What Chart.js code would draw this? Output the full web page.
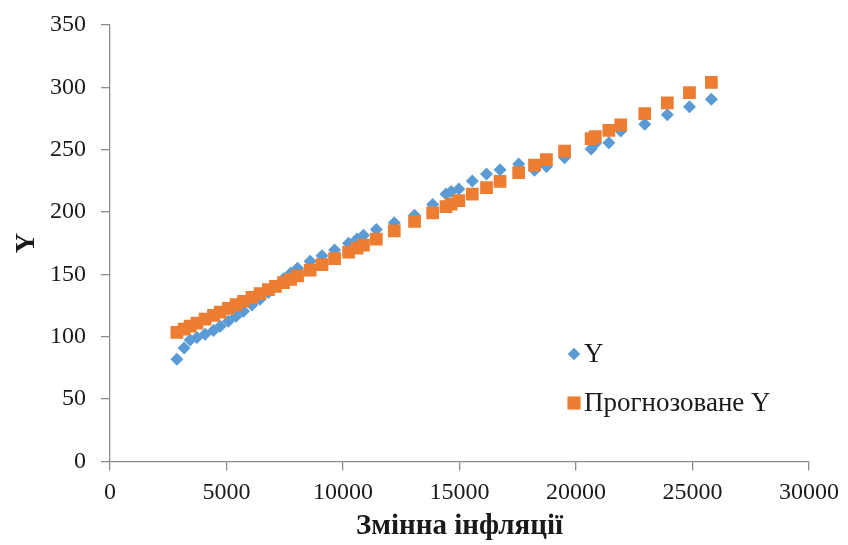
<!DOCTYPE html>
<html>
<head>
<meta charset="utf-8">
<script src="https://cdn.jsdelivr.net/npm/chart.js@4.4.1/dist/chart.umd.min.js"></script>
<style>
  html, body { margin: 0; padding: 0; background: #ffffff; }
  #wrap { width: 848px; height: 545px; position: relative; }
</style>
</head>
<body>
<div id="wrap"><canvas id="c" width="848" height="545"></canvas></div>
<script>
// Inflation variable (x values)
const inflation = [2870, 3180, 3440, 3730, 4080, 4440, 4730, 5080, 5410, 5730, 6090, 6440, 6800, 7100, 7450, 7750, 8050, 8590, 9100, 9640, 10240, 10600, 10880, 11430, 12200, 13070, 13850, 14420, 14640, 14970, 15550, 16160, 16740, 17540, 18220, 18730, 19510, 20650, 20830, 21410, 21920, 22950, 23920, 24870, 25810];
// Observed Y
const yActual = [82, 91, 97.5, 99.5, 102, 105, 108.5, 112.5, 116.5, 120.5, 125.5, 130, 135.5, 140.5, 146.5, 151, 155, 160.5, 165, 169.5, 175, 178.5, 181.5, 186, 191.5, 197.5, 206, 214.5, 216.5, 218.5, 225, 230.5, 234, 238.5, 233.5, 236.5, 243.5, 250.5, 255, 255.5, 265, 270.5, 278, 284.5, 290.5];
// Predicted Y
const yPredicted = [103.5, 106.2, 108.5, 111.0, 114.1, 117.2, 119.7, 122.8, 125.7, 128.5, 131.6, 134.7, 137.8, 140.5, 143.5, 146.1, 148.8, 153.5, 157.9, 162.7, 167.9, 171.0, 173.5, 178.3, 185.0, 192.6, 199.4, 204.4, 206.4, 209.2, 214.3, 219.6, 224.7, 231.7, 237.6, 242.1, 248.9, 258.9, 260.5, 265.5, 270.0, 279.0, 287.5, 295.8, 304.0];
const seriesNames = ['Y', 'Прогнозоване Y'];
const xTitle = 'Змінна інфляції';
const yTitle = 'Y';

const SERIF = '"Liberation Serif", "Times New Roman", serif';
const BLUE = '#5B9BD5';
const ORANGE = '#ED7D31';
const AXIS = '#8c8c8c';
const TEXT = '#1a1a1a';

const legendPlugin = {
  id: 'insideLegend',
  afterDraw(chart) {
    const ctx = chart.ctx;
    const rows = [354, 403];
    ctx.save();
    ctx.font = '27px ' + SERIF;
    ctx.textBaseline = 'middle';
    chart.data.datasets.forEach((ds, k) => {
      const cy = rows[k];
      const mx = 574;
      ctx.fillStyle = ds.backgroundColor;
      Chart.helpers.drawPoint(ctx, {
        pointStyle: ds.pointStyle,
        radius: ds.legendRadius,
        borderWidth: 0,
        rotation: 0
      }, mx, cy);
      ctx.fill();
      ctx.fillStyle = TEXT;
      ctx.fillText(ds.label, 584, cy + 1);
    });
    ctx.restore();
  }
};

new Chart(document.getElementById('c'), {
  type: 'scatter',
  data: {
    datasets: [
      {
        label: seriesNames[0],
        data: inflation.map((x, i) => ({ x: x, y: yActual[i] })),
        pointStyle: 'rectRot',
        pointRadius: 6.5,
        legendRadius: 6,
        backgroundColor: BLUE,
        borderColor: BLUE,
        pointBorderWidth: 0,
        order: 1
      },
      {
        label: seriesNames[1],
        data: inflation.map((x, i) => ({ x: x, y: yPredicted[i] })),
        pointStyle: 'rect',
        pointRadius: 9,
        legendRadius: 9,
        backgroundColor: ORANGE,
        borderColor: ORANGE,
        pointBorderWidth: 0,
        order: 0
      }
    ]
  },
  options: {
    responsive: false,
    devicePixelRatio: 1,
    animation: false,
    layout: { padding: { left: 0, right: 39, top: 25, bottom: 0 } },
    plugins: {
      legend: { display: false },
      tooltip: { enabled: false }
    },
    scales: {
      x: {
        type: 'linear',
        min: 0,
        max: 30000,
        ticks: { stepSize: 5000, color: TEXT, font: { family: SERIF, size: 24 }, padding: 8, maxRotation: 0,
                 callback: (v) => String(v) },
        grid: { display: true, drawOnChartArea: false, drawTicks: true, tickLength: 9, color: AXIS, lineWidth: 1.3 },
        border: { display: true, color: AXIS, width: 1.3 },
        title: { display: true, text: xTitle, color: TEXT, font: { family: SERIF, size: 29, weight: 'bold' }, padding: { top: 0, bottom: 1 } },
        afterFit(scale) { scale.height = 83.5; scale.paddingLeft = 0; scale.paddingRight = 0; }
      },
      y: {
        type: 'linear',
        min: 0,
        max: 350,
        ticks: { stepSize: 50, color: TEXT, font: { family: SERIF, size: 24 }, padding: 15 },
        grid: { display: true, drawOnChartArea: false, drawTicks: true, tickLength: 9, color: AXIS, lineWidth: 1.3 },
        border: { display: true, color: AXIS, width: 1.3 },
        title: { display: true, text: yTitle, color: TEXT, font: { family: SERIF, size: 28, weight: 'bold' }, padding: { top: 10, bottom: 0 } },
        afterFit(scale) { scale.width = 110; scale.paddingTop = 0; scale.paddingBottom = 0; }
      }
    }
  },
  plugins: [legendPlugin]
});
</script>
</body>
</html>
